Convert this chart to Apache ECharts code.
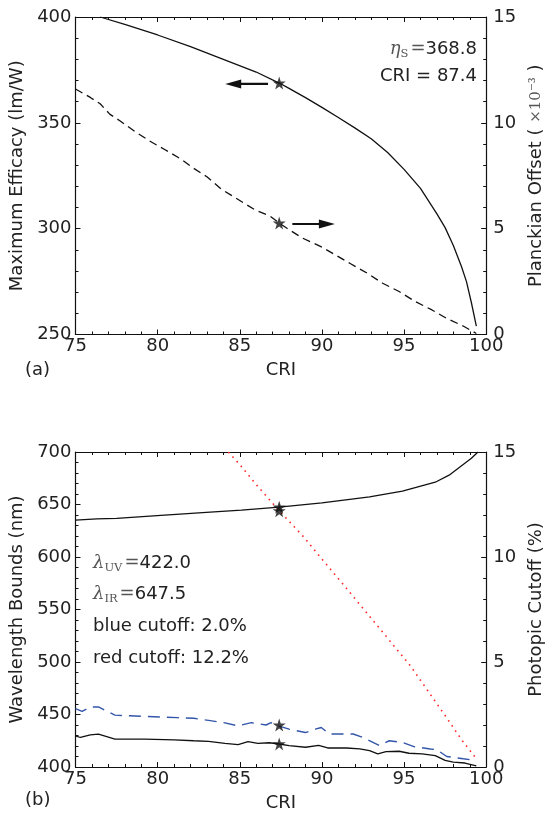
<!DOCTYPE html>
<html lang="en" style="height: 100%">
<head>
  <meta charset="utf-8">
</head>
<body style="height: 100%; margin: 0; background: #fff">
<div id="container" style="width: 553px; height: 813px"></div>
<script type="text/javascript" src="https://cdn.jsdelivr.net/npm/echarts@6/dist/echarts.min.js"></script>
<script type="text/javascript">
  // (a) maximum efficacy vs CRI, left axis (lm/W)
  var effCri = [76.5, 78, 80, 82, 84, 86, 87.4, 88, 89, 90, 91, 92, 93, 94, 95, 96, 97, 97.5, 98, 98.5, 98.8, 99.1, 99.4];
  var effVal = [400, 396.5, 391.5, 386, 380, 374, 368.8, 366.3, 361.9, 357.3, 352.5, 347.6, 342.5, 336, 328, 319, 307, 300.5, 292, 282, 275, 265, 254];
  // (a) planckian offset vs CRI, right axis (x10^-3)
  var offCri = [75, 75.9, 76.5, 77.1, 77.7, 78.6, 79.5, 80.4, 81.4, 82.2, 83, 83.9, 84.9, 85.9, 86.85, 87.4, 87.85, 88.8, 90, 90.8, 91.75, 92.75, 93.7, 94.7, 95.7, 96.7, 97.6, 98.6, 99.4];
  var offVal = [11.6, 11.2, 10.9, 10.4, 10.1, 9.6, 9.15, 8.75, 8.3, 7.85, 7.45, 6.85, 6.38, 5.9, 5.59, 5.27, 5.03, 4.56, 4.13, 3.77, 3.34, 2.9, 2.42, 2.03, 1.55, 1.16, 0.76, 0.4, 0.05];

  // (b) upper wavelength bound (nm)
  var irCri = [75, 76.3, 77.5, 80.2, 83.2, 85.1, 87.4, 90, 92.9, 94.9, 96.9, 97.8, 98.6, 99.1, 99.5];
  var irVal = [635.1, 636.4, 636.7, 639.6, 642.7, 644.6, 647.5, 651.6, 657.3, 662.7, 671.2, 678.5, 688, 694, 700];
  // (b) lower wavelength bound (nm)
  var uvCri = [75, 75.3, 75.9, 76.4, 77.4, 79.2, 81, 82.2, 83.1, 84.1, 84.9, 85.5, 86.1, 86.8, 87.4, 88, 89, 89.8, 90.35, 91.5, 92.3, 92.9, 93.4, 93.9, 94.7, 95.3, 96.1, 96.9, 97.5, 98, 98.7, 99.4];
  var uvVal = [429.7, 428.1, 430.6, 431.3, 426.6, 426.6, 425.9, 425, 424.4, 422.5, 421.3, 424.1, 422.5, 423.1, 421.9, 420.3, 418.8, 420.6, 418.1, 418.1, 417.2, 415.6, 412.5, 414.7, 415, 413.1, 412.5, 410.9, 406.3, 404.7, 403.8, 401];
  // (b) blue photopic cutoff (%)
  var blueCri = [75, 75.4, 75.9, 76.4, 77.4, 78.3, 79.2, 80.2, 81.2, 82.2, 83.1, 84.1, 84.9, 85.7, 86.6, 86.9, 87.4, 88, 89, 89.6, 89.96, 90.45, 91.9, 92.5, 93.5, 94.1, 94.9, 95.6, 96.6, 97, 97.6, 98.6, 99.2];
  var blueVal = [2.78, 2.65, 2.86, 2.86, 2.47, 2.44, 2.41, 2.38, 2.35, 2.32, 2.22, 2.1, 1.96, 2.11, 2.0, 2.11, 1.95, 1.8, 1.64, 1.8, 1.88, 1.57, 1.57, 1.41, 1.02, 1.25, 1.17, 0.97, 0.86, 0.82, 0.5, 0.39, 0.33];
  // (b) red photopic cutoff (%)
  var redCri = [84.3, 85, 86, 87.4, 88.9, 90, 91.5, 93.3, 95.4, 97.5, 98.5, 99.3];
  var redVal = [15, 14.4, 13.45, 12.2, 10.95, 9.9, 8.5, 6.8, 4.8, 2.45, 1.3, 0.5];

  // selected point (CRI = 87.4)
  var starEffLeft = [[87.4, 368.8]];
  var starOffRight = [[87.4, 5.27]];
  var starNmLeft = [[87.4, 647.5], [87.4, 422.0]];
  var starPctRight = [[87.4, 12.2], [87.4, 2.0]];
  // arrows: [tail, head] in data units
  var arrowLeft = [[86.72, 368.4], [84.6, 368.4]];
  var arrowRight = [[88.2, 5.22], [90.3, 5.22]];

  var FONT = 'DejaVu Sans';
  var FS = 18;
  var TXT = '#222';
  var STAR = 'path://M50,0 L61.2,34.5 L97.6,34.5 L68.2,55.9 L79.4,90.5 L50,69.1 L20.6,90.5 L31.8,55.9 L2.4,34.5 L38.8,34.5 Z';

  function pairs(xs, ys) {
    return xs.map(function (x, i) { return [x, ys[i]]; });
  }

  function xAx(grid, pos, name, gap) {
    return {
      type: 'value', gridIndex: grid, position: pos, min: 75, max: 100, interval: 5,
      name: name, nameLocation: 'middle', nameGap: gap,
      nameTextStyle: { fontFamily: FONT, fontSize: FS, color: TXT },
      axisLine: { show: true, onZero: false, lineStyle: { color: '#111', width: 1.2 } },
      axisTick: { show: true, inside: true, length: 5, lineStyle: { color: '#111' } },
      minorTick: { show: true, splitNumber: 5, length: 3, lineStyle: { color: '#111' } },
      axisLabel: { show: pos === 'bottom', margin: 3, fontFamily: FONT, fontSize: FS, color: TXT },
      splitLine: { show: false }
    };
  }

  function yAx(grid, pos, min, max, interval, name, gap, rich) {
    return {
      type: 'value', gridIndex: grid, position: pos, min: min, max: max, interval: interval,
      name: name, nameLocation: 'middle', nameGap: gap, nameRotate: 90,
      nameTextStyle: { fontFamily: FONT, fontSize: FS, color: TXT, rich: rich || {} },
      axisLine: { show: true, onZero: false, lineStyle: { color: '#111', width: 1.2 } },
      axisTick: { show: true, inside: true, length: 5, lineStyle: { color: '#111' } },
      minorTick: { show: true, splitNumber: 5, length: 3, lineStyle: { color: '#111' } },
      axisLabel: { margin: pos === 'left' ? 4 : 7, fontFamily: FONT, fontSize: FS, color: TXT },
      splitLine: { show: false }
    };
  }

  function line(xi, yi, data, color, width, dash) {
    return {
      type: 'line', xAxisIndex: xi, yAxisIndex: yi, data: data, symbol: 'none',
      lineStyle: { color: color, width: width, type: dash || 'solid' },
      z: 2, silent: true
    };
  }

  function stars(xi, yi, data) {
    return {
      type: 'scatter', xAxisIndex: xi, yAxisIndex: yi, data: data,
      symbol: STAR, symbolSize: 13, itemStyle: { color: '#111' }, z: 5, silent: true
    };
  }

  function arrow(xi, yi, pts, rot) {
    return {
      type: 'line', xAxisIndex: xi, yAxisIndex: yi, silent: true, z: 4,
      lineStyle: { color: '#111', width: 2.2 },
      itemStyle: { color: '#111' },
      data: [
        { value: pts[0], symbol: 'none' },
        { value: pts[1], symbol: 'triangle', symbolSize: [9, 16], symbolRotate: rot }
      ]
    };
  }

  var mathRich = {
    g: { fontFamily: 'DejaVu Serif', fontStyle: 'italic', fontSize: FS, fill: '#555' },
    s: { fontFamily: 'DejaVu Serif', fontSize: 11.5, fill: '#555', padding: [10, 2, 0, 0] },
    e: { fontFamily: 'DejaVu Serif', fontSize: FS, fill: '#555' },
    n: { fontFamily: FONT, fontSize: FS, fill: TXT }
  };

  var dom = document.getElementById('container');
  var myChart = echarts.init(dom, null, { renderer: 'canvas' });

  var option = {
    animation: false,
    backgroundColor: '#fff',
    grid: [
      { left: 75.5, right: 52, top: 17, height: 317.5 },
      { left: 75.5, right: 52, top: 452, height: 317 }
    ],
    xAxis: [
      xAx(0, 'bottom', 'CRI', 27),
      xAx(0, 'top', '', 0),
      xAx(1, 'bottom', 'CRI', 27),
      xAx(1, 'top', '', 0)
    ],
    yAxis: [
      yAx(0, 'left', 250, 400, 50, 'Maximum Efficacy (lm/W)', 47),
      yAx(0, 'right', 0, 15, 5, 'Planckian Offset ( {m|×10⁻³} )', 36,
        { m: { fontFamily: 'DejaVu Serif', fontSize: 15, color: '#555' } }),
      yAx(1, 'left', 400, 700, 50, 'Wavelength Bounds (nm)', 47),
      yAx(1, 'right', 0, 15, 5, 'Photopic Cutoff (%)', 36)
    ],
    series: [
      line(0, 0, pairs(effCri, effVal), '#111', 1.3),
      line(0, 1, pairs(offCri, offVal), '#111', 1.3, [8, 5]),
      stars(0, 0, starEffLeft),
      stars(0, 1, starOffRight),
      arrow(0, 0, arrowLeft, 90),
      arrow(0, 1, arrowRight, -90),
      line(2, 2, pairs(irCri, irVal), '#111', 1.3),
      line(2, 2, pairs(uvCri, uvVal), '#111', 1.3),
      line(2, 3, pairs(blueCri, blueVal), '#3355aa', 1.4, [12, 7]),
      line(2, 3, pairs(redCri, redVal), '#ff2a2a', 1.6, [1.6, 4.6]),
      stars(2, 2, starNmLeft),
      stars(2, 3, starPctRight)
    ],
    graphic: [
      {
        type: 'text', x: 477, y: 49,
        style: { text: '{g|η}{s|S}{e|=}{n|368.8}', align: 'right', verticalAlign: 'middle', rich: mathRich }
      },
      {
        type: 'text', x: 477, y: 76,
        style: { text: 'CRI = 87.4', align: 'right', verticalAlign: 'middle', font: FS + 'px "DejaVu Sans"', fill: TXT }
      },
      {
        type: 'text', x: 25, y: 370,
        style: { text: '(a)', verticalAlign: 'middle', font: FS + 'px "DejaVu Sans"', fill: TXT }
      },
      {
        type: 'text', x: 25, y: 800,
        style: { text: '(b)', verticalAlign: 'middle', font: FS + 'px "DejaVu Sans"', fill: TXT }
      },
      {
        type: 'text', x: 93, y: 563,
        style: { text: '{g|λ}{s|UV}{e|=}{n|422.0}', verticalAlign: 'middle', rich: mathRich }
      },
      {
        type: 'text', x: 93, y: 594.5,
        style: { text: '{g|λ}{s|IR}{e|=}{n|647.5}', verticalAlign: 'middle', rich: mathRich }
      },
      {
        type: 'text', x: 93, y: 626.5,
        style: { text: 'blue cutoff: 2.0%', verticalAlign: 'middle', font: FS + 'px "DejaVu Sans"', fill: TXT }
      },
      {
        type: 'text', x: 93, y: 658.5,
        style: { text: 'red cutoff: 12.2%', verticalAlign: 'middle', font: FS + 'px "DejaVu Sans"', fill: TXT }
      }
    ]
  };

  myChart.setOption(option);
  window.addEventListener('resize', myChart.resize);
</script>
</body>
</html>
